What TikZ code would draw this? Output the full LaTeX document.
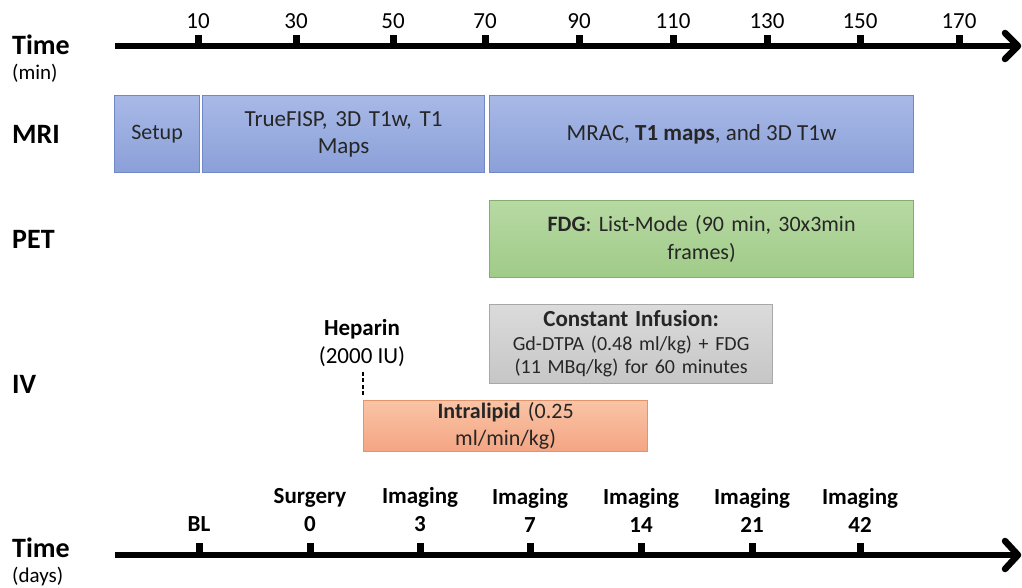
\documentclass[tikz,border=0pt]{standalone}
\usepackage{fontspec}
\setmainfont{Carlito}
\definecolor{txt}{HTML}{262626}
\definecolor{blueTop}{HTML}{A8B9E6}
\definecolor{blueBot}{HTML}{8BA0D9}
\definecolor{blueLine}{HTML}{7088C8}
\definecolor{greenTop}{HTML}{B7D9A3}
\definecolor{greenBot}{HTML}{A0CB88}
\definecolor{greenLine}{HTML}{86AD70}
\definecolor{grayTop}{HTML}{DBDBDB}
\definecolor{grayBot}{HTML}{C6C6C6}
\definecolor{grayLine}{HTML}{A8A8A8}
\definecolor{orangeTop}{HTML}{F9C4A6}
\definecolor{orangeBot}{HTML}{F4A583}
\definecolor{orangeLine}{HTML}{E3946A}
\newcommand{\fs}[1]{\fontsize{#1}{1.25\dimexpr#1pt\relax}\selectfont}
\tikzset{
  axisline/.style={line width=6.5pt, line cap=butt},
  chevron/.style={line width=6.5pt, line cap=round, line join=round},
  tickmark/.style={fill=black},
  rowlabel/.style={anchor=west, inner sep=0pt, font=\fs{28}\bfseries},
  unitlabel/.style={anchor=west, inner sep=0pt, font=\fs{21}},
  ticklabel/.style={inner sep=0pt, font=\fs{23}},
  daylabel/.style={inner sep=0pt, align=center, font=\fontsize{23}{28}\selectfont\bfseries},
  phase/.style={rectangle, anchor=north west, inner sep=2pt, align=center,
    text=txt, line width=1.2pt},
  mribox/.style={phase, draw=blueLine, top color=blueTop, bottom color=blueBot},
  petbox/.style={phase, draw=greenLine, top color=greenTop, bottom color=greenBot},
  ivbox/.style={phase, draw=grayLine, top color=grayTop, bottom color=grayBot},
  lipbox/.style={phase, draw=orangeLine, top color=orangeTop, bottom color=orangeBot},
}
\begin{document}
\begin{tikzpicture}[x=1pt, y=-1pt]
\useasboundingbox (0,0) rectangle (1022,588);

% ---------- time axis in minutes ----------
\coordinate (minStart) at (115,46);
\coordinate (minEnd) at (1014,46);
\draw[axisline] (minStart) -- (minEnd);
\draw[chevron] (1005,33) -- (1018,46) -- (1005,59);
\foreach \x/\t in {198/10, 296/30, 393/50, 485/70, 579/90, 673/110, 767/130, 860/150, 959/170}{
  \fill[tickmark] (\x-3.5,35) rectangle (\x+3.5,46);
  \node[ticklabel] (m\t) at (\x,21) {\t};
}
\node[rowlabel] (timeMin) at (12,45) {Time};
\node[unitlabel] (minUnit) at (12,73) {(min)};

% ---------- row labels ----------
\node[rowlabel] (mri) at (12,134) {MRI};
\node[rowlabel] (pet) at (12,239) {PET};
\node[rowlabel] (iv) at (12,384) {IV};

% ---------- MRI row ----------
\node[mribox, minimum width=85pt, minimum height=77pt, font=\fs{22}] (setup) at (114,95) {Setup};
\node[mribox, minimum width=282pt, minimum height=77pt, text width=250pt,
      font=\fontsize{23}{27}\selectfont] (truefisp) at (202,95) {TrueFISP, 3D T1w, T1\\Maps};
\node[mribox, minimum width=424pt, minimum height=77pt, font=\fs{23}] (mrac) at (489,95)
      {MRAC, \textbf{T1 maps}, and 3D T1w};

% ---------- PET row ----------
\node[petbox, minimum width=424pt, minimum height=77pt, text width=400pt,
      font=\fontsize{22}{28}\selectfont] (fdg) at (489,200)
      {\textbf{FDG}: List-Mode (90 min, 30x3min\\frames)};

% ---------- IV row ----------
\node[ivbox, minimum width=283pt, minimum height=79pt, text width=270pt,
      font=\fontsize{20}{23.5}\selectfont] (infusion) at (489,304)
      {{\fontsize{23}{26}\selectfont\bfseries Constant Infusion:}\\
       Gd-DTPA (0.48 ml/kg) + FDG\\(11 MBq/kg) for 60 minutes};
\node[lipbox, minimum width=284pt, minimum height=49pt, text width=270pt,
      font=\fontsize{22}{27}\selectfont] (lipid) at (363,400)
      {\textbf{Intralipid} (0.25\\ml/min/kg)};

\node[inner sep=0pt, align=center, font=\fontsize{23}{28}\selectfont] (heparin) at (362,343)
      {\textbf{Heparin}\\(2000 IU)};
\draw[dashed, dash pattern=on 4pt off 2.5pt, line width=1.6pt]
      ([yshift=-5pt]heparin.south -| lipid.north west) -- ([yshift=3pt]lipid.north west);

% ---------- time axis in days ----------
\coordinate (dayStart) at (115,555);
\coordinate (dayEnd) at (1014,555);
\draw[axisline] (dayStart) -- (dayEnd);
\draw[chevron] (1005,541) -- (1018,555) -- (1005,569);
\foreach \x in {199, 310, 420, 530, 641, 752, 860}{
  \fill[tickmark] (\x-3.5,543) rectangle (\x+3.5,555);
}
\node[daylabel] (bl) at (199,524) {BL};
\node[daylabel] (d0) at (310,510) {Surgery\\0};
\node[daylabel] (d3) at (420,510) {Imaging\\3};
\node[daylabel] (d7) at (530,510) {Imaging\\7};
\node[daylabel] (d14) at (641,510) {Imaging\\14};
\node[daylabel] (d21) at (752,510) {Imaging\\21};
\node[daylabel] (d42) at (860,510) {Imaging\\42};
\node[rowlabel] (timeDays) at (12,548) {Time};
\node[unitlabel] (dayUnit) at (12,577) {(days)};
\end{tikzpicture}
\end{document}
